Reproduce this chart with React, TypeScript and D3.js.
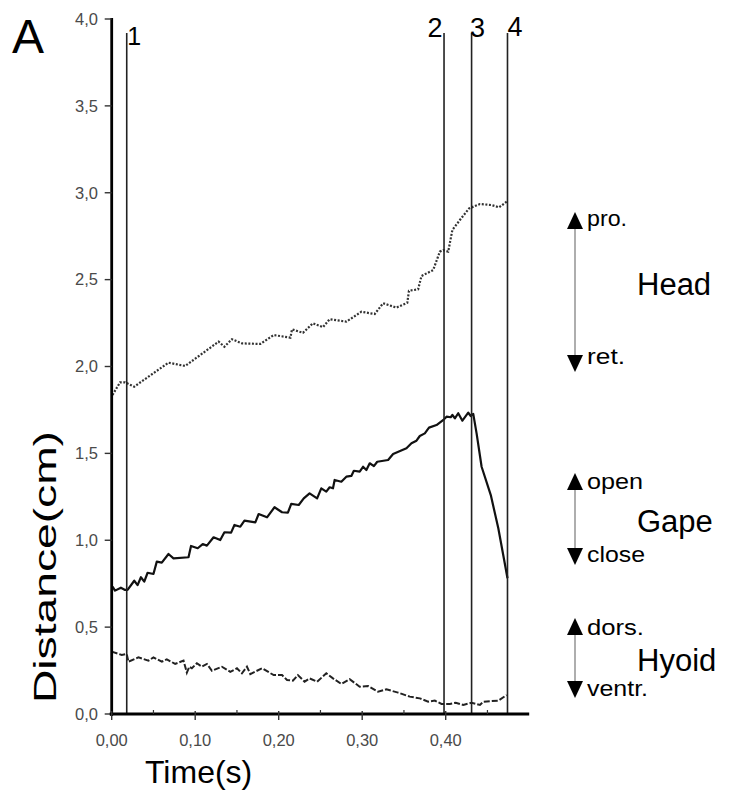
import React from 'react'
import * as d3 from 'd3'

// time (s) / distance (cm) pairs
const headData: [number, number][] = [
  [0.001, 1.836], [0.01, 1.909], [0.016, 1.909], [0.027, 1.884], [0.068, 2.022],
  [0.088, 2.003], [0.128, 2.143], [0.135, 2.114], [0.144, 2.157], [0.156, 2.133],
  [0.178, 2.13], [0.194, 2.181], [0.214, 2.166], [0.216, 2.214], [0.229, 2.194],
  [0.241, 2.249], [0.253, 2.226], [0.261, 2.272], [0.281, 2.258], [0.299, 2.315],
  [0.315, 2.302], [0.325, 2.364], [0.341, 2.339], [0.354, 2.367], [0.356, 2.436],
  [0.367, 2.444], [0.371, 2.521], [0.385, 2.555], [0.393, 2.661], [0.397, 2.67],
  [0.403, 2.661], [0.408, 2.786], [0.417, 2.843], [0.428, 2.91], [0.441, 2.935],
  [0.455, 2.929], [0.464, 2.916], [0.473, 2.949]
]

const gapeData: [number, number][] = [
  [0.001, 0.733], [0.004, 0.71], [0.011, 0.727], [0.016, 0.714], [0.019, 0.714],
  [0.027, 0.767], [0.031, 0.742], [0.035, 0.787], [0.039, 0.762], [0.043, 0.813],
  [0.05, 0.806], [0.054, 0.877], [0.06, 0.871], [0.068, 0.921], [0.074, 0.896],
  [0.092, 0.902], [0.095, 0.967], [0.103, 0.954], [0.109, 0.978], [0.114, 0.969],
  [0.122, 1.017], [0.13, 1.001], [0.135, 1.046], [0.143, 1.044], [0.147, 1.088],
  [0.154, 1.078], [0.159, 1.113], [0.172, 1.103], [0.176, 1.151], [0.186, 1.132],
  [0.195, 1.19], [0.204, 1.161], [0.211, 1.159], [0.215, 1.209], [0.224, 1.203],
  [0.23, 1.241], [0.237, 1.27], [0.246, 1.241], [0.251, 1.299], [0.257, 1.28],
  [0.261, 1.305], [0.265, 1.299], [0.267, 1.347], [0.275, 1.337], [0.281, 1.366],
  [0.287, 1.37], [0.29, 1.4], [0.297, 1.395], [0.301, 1.423], [0.305, 1.404],
  [0.309, 1.443], [0.314, 1.427], [0.318, 1.452], [0.331, 1.462], [0.337, 1.496],
  [0.353, 1.529], [0.359, 1.558], [0.365, 1.573], [0.369, 1.6], [0.375, 1.615],
  [0.38, 1.648], [0.389, 1.663], [0.398, 1.696], [0.401, 1.711], [0.406, 1.708],
  [0.408, 1.721], [0.411, 1.702], [0.415, 1.731], [0.42, 1.688], [0.427, 1.734],
  [0.43, 1.715], [0.433, 1.727], [0.437, 1.615], [0.443, 1.423], [0.454, 1.26],
  [0.463, 1.069], [0.47, 0.886], [0.474, 0.781]
]

const hyoidData: [number, number][] = [
  [0, 0.359], [0.012, 0.34], [0.018, 0.345], [0.02, 0.301], [0.032, 0.326],
  [0.044, 0.307], [0.05, 0.326], [0.06, 0.301], [0.066, 0.315], [0.076, 0.288],
  [0.086, 0.307], [0.09, 0.238], [0.093, 0.272], [0.096, 0.263], [0.102, 0.292],
  [0.108, 0.272], [0.114, 0.288], [0.12, 0.249], [0.132, 0.272], [0.142, 0.243],
  [0.15, 0.263], [0.156, 0.234], [0.162, 0.272], [0.166, 0.23], [0.18, 0.263],
  [0.194, 0.224], [0.204, 0.224], [0.21, 0.196], [0.217, 0.192], [0.223, 0.224],
  [0.231, 0.186], [0.237, 0.205], [0.246, 0.186], [0.257, 0.234], [0.265, 0.205],
  [0.275, 0.173], [0.285, 0.2], [0.297, 0.157], [0.307, 0.161], [0.319, 0.128],
  [0.329, 0.142], [0.343, 0.123], [0.357, 0.1], [0.369, 0.09], [0.379, 0.071],
  [0.387, 0.077], [0.395, 0.058], [0.405, 0.058], [0.412, 0.065], [0.421, 0.052],
  [0.431, 0.065], [0.441, 0.052], [0.445, 0.071], [0.463, 0.077], [0.473, 0.109]
]

// event markers 1-4
const eventTimes = [0.018, 0.398, 0.431, 0.474]
const eventLabels = ['1', '2', '3', '4']

const yTicks = [0, 0.5, 1, 1.5, 2, 2.5, 3, 3.5, 4]
const xTicks = [0, 0.1, 0.2, 0.3, 0.4]
const xMinorTicks = [0.05, 0.15, 0.25, 0.35, 0.45]

const FONT = '"Liberation Sans", Arial, sans-serif'

function Key({x, top, bottom, upLabel, downLabel, upY, downY, name, nameY, upW, downW}) {
  return (
    <g>
      <line x1={x} x2={x} y1={top + 14} y2={bottom - 14} stroke="#9a9a9a" strokeWidth={1.6} />
      <path d={`M${x},${top} L${x + 8},${top + 17} L${x - 8},${top + 17} Z`} fill="#000" />
      <path d={`M${x},${bottom} L${x + 8},${bottom - 17} L${x - 8},${bottom - 17} Z`} fill="#000" />
      <text x={x + 12} y={upY} fontSize={22} textLength={upW} lengthAdjust="spacingAndGlyphs">{upLabel}</text>
      <text x={x + 12} y={downY} fontSize={22} textLength={downW} lengthAdjust="spacingAndGlyphs">{downLabel}</text>
      <text x={637} y={nameY} fontSize={31}>{name}</text>
    </g>
  )
}

export default function App() {
  const x = d3.scaleLinear().domain([0, 0.5]).range([111.7, 529.2])
  const y = d3.scaleLinear().domain([0, 4]).range([714, 19])

  const line = d3
    .line<[number, number]>()
    .x(d => x(d[0]))
    .y(d => y(d[1]))

  const fmtY = (v: number) => v.toFixed(1).replace('.', ',')
  const fmtX = (v: number) => v.toFixed(2).replace('.', ',')

  return (
    <svg width={730} height={798} style={{position: 'absolute', left: 0, top: 0, background: '#fff'}} fontFamily={FONT}>
      <rect width={730} height={798} fill="#fff" />
      <text x={12} y={53} fontSize={48}>A</text>

      {/* data lines */}
      <path d={line(headData)} fill="none" stroke="#333" strokeWidth={2.2} strokeDasharray="2,1.6" />
      <path d={line(gapeData)} fill="none" stroke="#111" strokeWidth={2.2} strokeLinejoin="round" />
      <path d={line(hyoidData)} fill="none" stroke="#222" strokeWidth={2} strokeDasharray="6,2" />

      {/* event lines */}
      {eventTimes.map((t, i) => (
        <line key={i} x1={x(t)} x2={x(t)} y1={33} y2={y(0)} stroke="#222" strokeWidth={1.6} />
      ))}
      <text x={x(eventTimes[0]) + 0.5} y={45} fontSize={25}>{eventLabels[0]}</text>
      <text x={x(eventTimes[1]) - 1.5} y={37} fontSize={27} textAnchor="end">{eventLabels[1]}</text>
      <text x={x(eventTimes[2]) - 1.5} y={37} fontSize={27}>{eventLabels[2]}</text>
      <text x={x(eventTimes[3])} y={36} fontSize={27}>{eventLabels[3]}</text>

      {/* y axis */}
      <line x1={x(0)} x2={x(0)} y1={y(4) - 1} y2={y(0) + 2} stroke="#000" strokeWidth={2.8} />
      {yTicks.map(v => (
        <g key={v} transform={`translate(0,${y(v)})`}>
          <line x1={x(0) - 7} x2={x(0)} stroke="#333" strokeWidth={1.4} />
          <text x={98} dy="0.35em" fontSize={16.5} fill="#4a4a4a" textAnchor="end">{fmtY(v)}</text>
        </g>
      ))}

      {/* x axis */}
      <line x1={x(0) - 2} x2={x(0.5)} y1={y(0)} y2={y(0)} stroke="#000" strokeWidth={2.8} />
      {xTicks.map(v => (
        <g key={v} transform={`translate(${x(v)},0)`}>
          <line y1={y(0) - 3} y2={y(0) + 6} stroke="#333" strokeWidth={1.4} />
          <text y={746} fontSize={16.5} fill="#4a4a4a" textAnchor="middle">{fmtX(v)}</text>
        </g>
      ))}
      {xMinorTicks.map(v => (
        <line key={v} x1={x(v)} x2={x(v)} y1={y(0) - 4} y2={y(0)} stroke="#333" strokeWidth={1.2} />
      ))}

      {/* axis titles */}
      <text x={145} y={783} fontSize={32}>Time(s)</text>
      <text
        transform="translate(56,703) rotate(-90)"
        fontSize={32}
        textLength={272}
        lengthAdjust="spacingAndGlyphs"
      >
        Distance(cm)
      </text>

      {/* legend keys */}
      <Key x={575} top={212} bottom={372} upLabel="pro." downLabel="ret." upY={226} downY={364}
        name="Head" nameY={295} upW={40} downW={38} />
      <Key x={575} top={473} bottom={565} upLabel="open" downLabel="close" upY={489} downY={562}
        name="Gape" nameY={532} upW={56} downW={58} />
      <Key x={575} top={618} bottom={698} upLabel="dors." downLabel="ventr." upY={635} downY={696}
        name="Hyoid" nameY={671} upW={57} downW={61} />
    </svg>
  )
}
